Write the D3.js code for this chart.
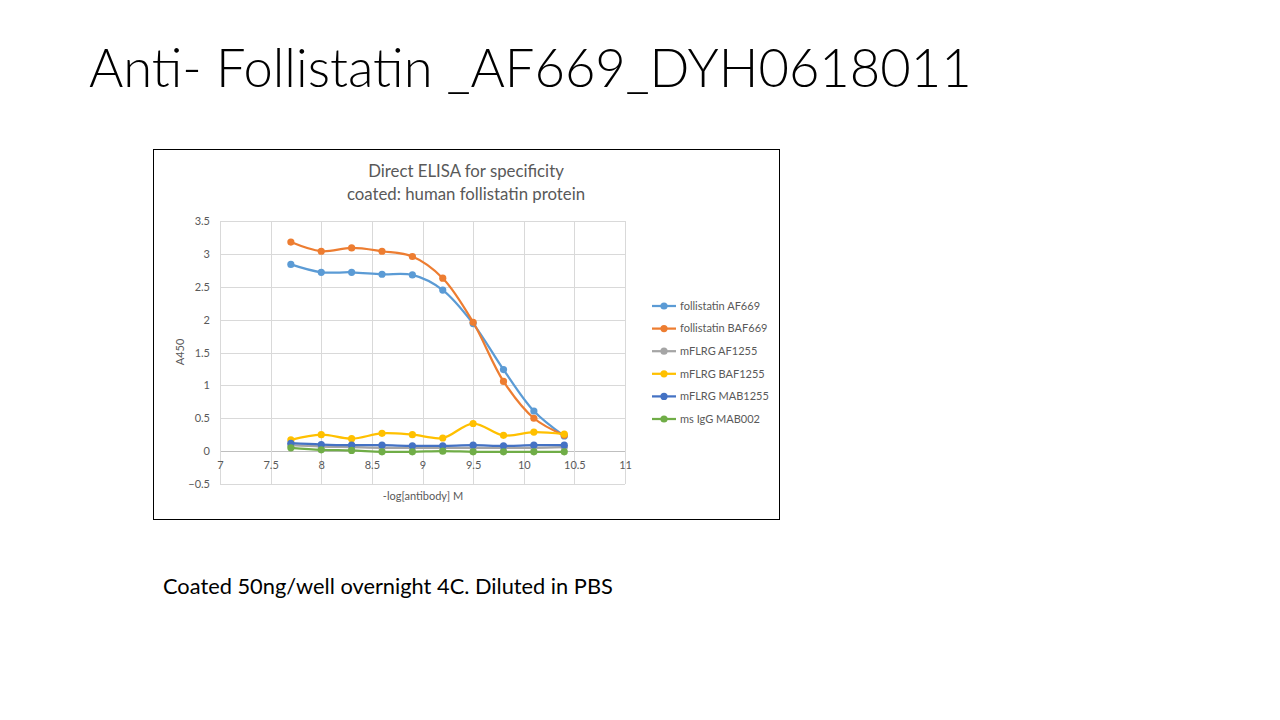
<!DOCTYPE html>
<html>
<head>
<meta charset="utf-8">
<script src="https://cdn.jsdelivr.net/npm/d3@7"></script>
<style>
  body { margin: 0; background: #fff; }
  svg { display: block; }
</style>
</head>
<body>
<div id="slide"></div>
<script>
// Data
const xValues = [7.7, 8, 8.3, 8.6, 8.9, 9.2, 9.5, 9.8, 10.1, 10.4];
const seriesNames = ["follistatin AF669", "follistatin BAF669", "mFLRG AF1255", "mFLRG BAF1255", "mFLRG MAB1255", "ms IgG MAB002"];
const follistatinAF669 = [2.84, 2.72, 2.72, 2.69, 2.68, 2.45, 1.94, 1.24, 0.61, 0.23];
const follistatinBAF669 = [3.18, 3.04, 3.09, 3.04, 2.96, 2.63, 1.96, 1.06, 0.50, 0.24];
const mflrgAF1255 = [0.09, 0.07, 0.06, 0.05, 0.05, 0.05, 0.05, 0.05, 0.05, 0.06];
const mflrgBAF1255 = [0.17, 0.25, 0.19, 0.27, 0.25, 0.20, 0.42, 0.24, 0.29, 0.26];
const mflrgMAB1255 = [0.12, 0.10, 0.09, 0.09, 0.08, 0.08, 0.09, 0.08, 0.09, 0.09];
const msIgGMAB002 = [0.05, 0.02, 0.01, -0.01, -0.01, 0.00, -0.01, -0.01, -0.01, -0.01];
const seriesColors = ["#5B9BD5", "#ED7D31", "#A5A5A5", "#FFC000", "#4472C4", "#70AD47"];
const xTicks = [7, 7.5, 8, 8.5, 9, 9.5, 10, 10.5, 11];
const yTicks = [-0.5, 0, 0.5, 1, 1.5, 2, 2.5, 3, 3.5];

const seriesValues = [follistatinAF669, follistatinBAF669, mflrgAF1255, mflrgBAF1255, mflrgMAB1255, msIgGMAB002];

const width = 1280;
const height = 720;

const svg = d3.select("#slide")
    .append("svg")
    .attr("width", width)
    .attr("height", height);

// Slide title
svg.append("text")
    .attr("x", 89)
    .attr("y", 87)
    .style("font-family", "Lato, 'Open Sans', sans-serif")
    .style("font-weight", 300)
    .style("font-size", "52.5px")
    .style("fill", "#000")
    .text("Anti- Follistatin _AF669_DYH0618011");

// Chart frame
svg.append("rect")
    .attr("x", 153.5)
    .attr("y", 149.5)
    .attr("width", 626)
    .attr("height", 370)
    .style("fill", "#fff")
    .style("stroke", "#000")
    .style("stroke-width", 1);

// Chart title
const chartFont = "Lato, 'Open Sans', sans-serif";
svg.append("text")
    .attr("x", 466)
    .attr("y", 177)
    .attr("text-anchor", "middle")
    .style("font-family", chartFont)
    .style("font-size", "16.8px")
    .style("fill", "#595959")
    .text("Direct ELISA for specificity");
svg.append("text")
    .attr("x", 466)
    .attr("y", 200)
    .attr("text-anchor", "middle")
    .style("font-family", chartFont)
    .style("font-size", "16.8px")
    .style("fill", "#595959")
    .text("coated: human follistatin protein");

// Scales
const plot = { left: 220, right: 625, top: 221, bottom: 484 };
const xScale = d3.scaleLinear().domain([7, 11]).range([plot.left, plot.right]);
const yScale = d3.scaleLinear().domain([-0.5, 3.5]).range([plot.bottom, plot.top]);

// Gridlines
svg.append("g")
    .selectAll("line")
    .data(yTicks)
    .enter()
    .append("line")
    .attr("x1", plot.left)
    .attr("x2", plot.right)
    .attr("y1", (d) => Math.round(yScale(d)) + 0.5)
    .attr("y2", (d) => Math.round(yScale(d)) + 0.5)
    .style("stroke", (d) => d === 0 ? "#bfbfbf" : "#d9d9d9")
    .style("stroke-width", 1);

svg.append("g")
    .selectAll("line")
    .data(xTicks)
    .enter()
    .append("line")
    .attr("x1", (d) => Math.round(xScale(d)) + 0.5)
    .attr("x2", (d) => Math.round(xScale(d)) + 0.5)
    .attr("y1", plot.top)
    .attr("y2", plot.bottom)
    .style("stroke", "#d9d9d9")
    .style("stroke-width", 1);

// Axes (labels only, like Excel)
const xAxis = d3.axisBottom(xScale).tickValues(xTicks).tickSize(0).tickPadding(10).tickFormat(d3.format("~g"));
const yAxis = d3.axisLeft(yScale).tickValues(yTicks).tickSize(0).tickPadding(10).tickFormat(d3.format("~g"));

const gx = svg.append("g")
    .attr("transform", `translate(0, ${yScale(0)})`)
    .call(xAxis);
const gy = svg.append("g")
    .attr("transform", `translate(${plot.left}, 0)`)
    .call(yAxis);

[gx, gy].forEach((g) => {
    g.select(".domain").remove();
    g.selectAll("text")
        .style("font-family", chartFont)
        .style("font-size", "11px")
        .style("fill", "#595959");
});

// Axis titles
svg.append("text")
    .attr("transform", "rotate(-90)")
    .attr("x", -352)
    .attr("y", 184)
    .attr("text-anchor", "middle")
    .style("font-family", chartFont)
    .style("font-size", "11px")
    .style("fill", "#595959")
    .text("A450");

svg.append("text")
    .attr("x", 423)
    .attr("y", 500)
    .attr("text-anchor", "middle")
    .style("font-family", chartFont)
    .style("font-size", "11px")
    .style("fill", "#595959")
    .text("-log[antibody] M");

// Series lines and markers
const line = d3.line()
    .x((d) => xScale(d[0]))
    .y((d) => yScale(d[1]))
    .curve(d3.curveCatmullRom.alpha(0.5));

seriesValues.forEach((vals, i) => {
    const pts = xValues.map((x, j) => [x, vals[j]]);
    const g = svg.append("g");
    g.append("path")
        .datum(pts)
        .attr("d", line)
        .style("fill", "none")
        .style("stroke", seriesColors[i])
        .style("stroke-width", 2.25)
        .style("stroke-linejoin", "round");
    g.selectAll("circle")
        .data(pts)
        .enter()
        .append("circle")
        .attr("cx", (d) => xScale(d[0]))
        .attr("cy", (d) => yScale(d[1]))
        .attr("r", 3.6)
        .style("fill", seriesColors[i]);
});

// Legend
const legend = svg.append("g")
    .selectAll("g")
    .data(seriesNames)
    .enter()
    .append("g")
    .attr("transform", (d, i) => `translate(652, ${306 + i * 22.6})`);

legend.append("line")
    .attr("x1", 0)
    .attr("x2", 24)
    .style("stroke", (d, i) => seriesColors[i])
    .style("stroke-width", 2.25);
legend.append("circle")
    .attr("cx", 12)
    .attr("r", 3.6)
    .style("fill", (d, i) => seriesColors[i]);
legend.append("text")
    .attr("x", 28)
    .attr("dy", "0.35em")
    .style("font-family", chartFont)
    .style("font-size", "11px")
    .style("fill", "#595959")
    .text((d) => d);

// Footnote
svg.append("text")
    .attr("x", 163)
    .attr("y", 594)
    .style("font-family", chartFont)
    .style("font-size", "21.8px")
    .style("fill", "#000")
    .text("Coated 50ng/well overnight 4C. Diluted in PBS");
</script>
</body>
</html>
